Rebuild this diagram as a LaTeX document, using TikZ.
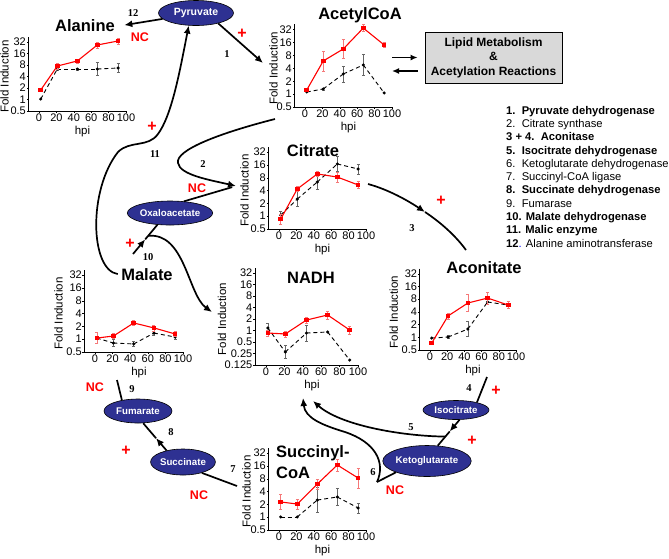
\documentclass[tikz,border=0pt]{standalone}
\usepackage{fontspec}
\setmainfont{Liberation Serif}
\setsansfont{Liberation Sans}
\usetikzlibrary{arrows.meta,positioning,shapes.geometric,calc}

\definecolor{metblue}{RGB}{46,49,146}
\definecolor{boxgray}{RGB}{217,217,217}
\definecolor{barred}{RGB}{245,120,120}

\tikzset{
  metab/.style={ellipse, draw, line width=0.6pt, fill=metblue, text=white, inner sep=0pt,
    font=\sffamily\bfseries\fontsize{9.7}{11}\selectfont},
  plottitle/.style={anchor=base, font=\sffamily\bfseries\fontsize{16.5}{21}\selectfont},
  lipidbox/.style={draw, fill=boxgray, line width=0.8pt, minimum width=137pt, minimum height=51pt,
    align=center, font=\sffamily\bfseries\fontsize{12}{14.5}\selectfont},
  enzlist/.style={align=left, inner sep=0pt, font=\sffamily\fontsize{11.2}{13.3}\selectfont},
  rxn/.style={font=\rmfamily\bfseries\fontsize{10.5}{12}\selectfont},
  effect/.style={text=red, font=\sffamily\bfseries\fontsize{12.5}{14}\selectfont},
  upmark/.style={text=red, font=\sffamily\bfseries\fontsize{16}{16}\selectfont},
  route/.style={line width=1.7pt},
  flow/.style={route, -{Latex[length=8pt,width=7pt]}},
  flowthin/.style={line width=1.4pt, -{Latex[length=7pt,width=6pt]}},
  axisline/.style={line width=0.6pt},
  ticklabel/.style={inner sep=0pt, font=\sffamily\fontsize{11}{11}\selectfont},
  axislabel/.style={inner sep=0pt, font=\sffamily\fontsize{11.5}{12}\selectfont},
  redline/.style={red, line width=1.1pt},
  redbar/.style={barred, line width=0.5pt, {Bar[width=3pt]}-{Bar[width=3pt]}},
  reddot/.style={rectangle, fill=red, minimum size=4.5pt, inner sep=0pt},
  blackline/.style={black, line width=0.9pt, dash pattern=on 4pt off 3pt},
  blackbar/.style={black!60, line width=0.5pt, {Bar[width=3pt]}-{Bar[width=3pt]}},
  blackdot/.style={circle, fill=black, minimum size=3.4pt, inner sep=0pt}
}

% axes of one fold-induction plot: #1 = doublings shown, #2 = tick values,
% #3 = gap from axis to the Fold Induction label
\newcommand{\chartaxes}[3][24pt]{%
  \draw[axisline] (-12,#2+0.4) -- (-12,0) -- (101,0);
  \foreach \v [count=\k from 0] in {#3} {
    \draw[axisline] (-12,\k) -- ++(-2pt,0);
    \node[ticklabel, left=2.5pt] at (-12,\k) {\v};}
  \foreach \t in {0,20,...,100} {
    \draw[axisline] (\t,0) -- ++(0,-2pt);
    \node[ticklabel, below=3pt] at (\t,0) {\t};}
  \node[axislabel, rotate=90] at ([xshift=-#1]-12,#2/2) {Fold Induction};
  \node[axislabel] at ([yshift=-21pt]50,0) {hpi};
}

% one data series: #1 = red or black, #2 = hpi/doublings/error
\newcommand{\datarun}[2]{%
  \foreach \x/\y/\e [remember=\x as \lastx (initially -99), remember=\y as \lasty (initially 0)] in {#2} {
    \ifdim\lastx pt>-50pt \draw[#1line] (\lastx,\lasty) -- (\x,\y); \fi
    \ifdim\e pt>0pt \draw[#1bar] (\x,\y-\e) -- (\x,\y+\e); \fi
  }
  \foreach \x/\y/\e in {#2} \node[#1dot] at (\x,\y) {};
}

\begin{document}
\begin{tikzpicture}[x=1pt,y=-1pt]
\useasboundingbox (0,0) rectangle (669,558);

% metabolites
\node[metab, minimum width=75pt, minimum height=25pt, font=\sffamily\bfseries\fontsize{10.5}{11}\selectfont] (pyr) at (196,13) {Pyruvate};
\node[metab, minimum width=84pt, minimum height=24pt] (oxa) at (170,213) {Oxaloacetate};
\node[metab, minimum width=66pt, minimum height=19pt] (iso) at (456,410) {Isocitrate};
\node[metab, minimum width=76pt, minimum height=31pt] (keto) at (427,461) {Ketoglutarate};
\node[metab, minimum width=68pt, minimum height=24pt] (fum) at (138,411) {Fumarate};
\node[metab, minimum width=64pt, minimum height=26pt] (succ) at (183,462) {Succinate};

% plot titles
\node[plottitle] (alanine) at (85,31) {Alanine};
\node[plottitle] (acetylcoa) at (360,19) {AcetylCoA};
\node[plottitle] (citrate) at (313,156) {Citrate};
\node[plottitle] (nadh) at (311,283) {NADH};
\node[plottitle] (aconitate) at (484,273) {Aconitate};
\node[plottitle] (malate) at (147,280) {Malate};
\node[plottitle, anchor=north west, align=left, inner sep=0pt] (succinylcoa) at (276,445) {Succinyl-\\CoA};

% plots
\begin{scope}[shift={(39,111)}, x=0.87pt, y=11.5pt]
  \chartaxes{6}{0.5,1,2,4,8,16,32}
  \datarun{black}{2/1.04/0, 21/3.65/.15, 44/3.65/.1, 67/3.65/.6, 91/3.74/.4}
  \datarun{red}{2/1.83/.15, 21/3.91/.3, 44/4.35/.2, 67/5.74/.3, 91/6.09/.3}
\end{scope}
\begin{scope}[shift={(305,107)}, x=0.87pt, y=12.9pt]
  \chartaxes[21pt]{6}{0.5,1,2,4,8,16,32}
  \datarun{black}{2/1.16/0, 21/1.40/.1, 44/2.56/.65, 67/3.26/.85, 91/1.09/0}
  \datarun{red}{2/1.32/.15, 21/3.57/.8, 44/4.50/.75, 67/6.12/.3, 91/4.81/.2}
\end{scope}
\begin{scope}[shift={(279,229)}, x=0.87pt, y=12.8pt]
  \chartaxes{6}{0.5,1,2,4,8,16,32}
  \datarun{black}{2/1.09/.3, 21/2.34/.6, 44/3.67/.6, 67/5.08/.6, 91/4.69/.4}
  \datarun{red}{2/0.78/.4, 21/3.13/.2, 44/4.30/.2, 67/4.06/.4, 91/3.44/.3}
\end{scope}
\begin{scope}[shift={(266,365)}, x=0.92pt, y=11.5pt]
  \chartaxes[33pt]{8}{0.125,0.25,0.5,1,2,4,8,16,32}
  \datarun{black}{2/3.22/.4, 21/1.13/.6, 44/2.78/.7, 67/2.87/0, 91/0.43/0}
  \datarun{red}{2/2.78/.3, 21/2.70/.3, 44/3.91/.3, 67/4.35/.35, 91/3.04/.35}
\end{scope}
\begin{scope}[shift={(430,350)}, x=0.86pt, y=12.7pt]
  \chartaxes[26pt]{6}{0.5,1,2,4,8,16,32}
  \datarun{black}{2/0.94/0, 21/1.02/.15, 44/1.65/.6, 67/3.78/.2, 91/3.54/.3}
  \datarun{red}{2/0.55/.15, 21/2.68/.25, 44/3.70/.7, 67/4.09/.5, 91/3.54/.3}
\end{scope}
\begin{scope}[shift={(95,352)}, x=0.88pt, y=12.8pt]
  \chartaxes[26pt]{6}{0.5,1,2,4,8,16,32}
  \datarun{black}{2/1.09/0, 21/0.70/.3, 44/0.63/.2, 67/1.48/.2, 91/1.17/.2}
  \datarun{red}{2/1.09/.45, 21/1.25/.2, 44/2.27/.2, 67/1.88/.25, 91/1.41/.2}
\end{scope}
\begin{scope}[shift={(279,530)}, x=0.87pt, y=12.8pt]
  \chartaxes[22pt]{6}{0.5,1,2,4,8,16,32}
  \datarun{black}{2/1.02/0, 21/1.02/0, 44/2.34/1.0, 67/2.58/.7, 91/1.72/.4}
  \datarun{red}{2/2.19/.6, 21/2.03/.4, 44/3.59/.4, 67/5.08/.5, 91/4.06/.8}
\end{scope}

% lipid box and enzyme list
\node[lipidbox] (lipid) at (493.5,57.5) {Lipid Metabolism\\\&\\Acetylation Reactions};
\node[enzlist, anchor=north west] (enzymes) at (506,105.8) {%
  \textbf{1.\ \ Pyruvate dehydrogenase}\\
  2.\ \ Citrate synthase\\
  \textbf{3 + 4.\ \ Aconitase}\\
  \textbf{5.\ \ Isocitrate dehydrogenase}\\
  6.\ \ Ketoglutarate dehydrogenase\\
  7.\ \ Succinyl-CoA ligase\\
  \textbf{8.\ \ Succinate dehydrogenase}\\
  9.\ \ Fumarase\\
  \textbf{10. Malate dehydrogenase}\\
  \textbf{11. Malic enzyme}\\
  \textbf{12}{\color{blue}.} Alanine aminotransferase};

% free ends of connectors
\coordinate (acin) at (263,63);
\coordinate (acright) at (392,57.5);
\coordinate (lipA) at ([xshift=-7pt]lipid.west);
\coordinate (lipB) at ([shift={(-7,13.5)}]lipid.west);
\coordinate (acright2) at (392,71);
\coordinate (acleft) at (275,119);
\coordinate (citin) at (236,186);
\coordinate (citright) at (368,184);
\coordinate (step3) at (425,212);
\coordinate (acontop) at (466,250);
\coordinate (aconbot) at (487,377);
\coordinate (step5) at ($(iso.-70)!0.45!(keto.55)$);
\coordinate (join5) at ($(iso.-70)!0.65!(keto.55)$);
\coordinate (nadhA) at (303,398);
\coordinate (nadhB) at (313,401);
\coordinate (ketoend) at (377,482);
\coordinate (scoaleft) at (237,486);
\coordinate (step8) at ($(succ.145)!0.45!(fum.-67)$);
\coordinate (malbot) at (117,380);
\coordinate (malout) at (133,254);
\coordinate (step10) at ($(malout)!0.5!(oxa.223)$);
\coordinate (join10) at ($(malout)!0.62!(oxa.223)$);
\coordinate (nadhC) at (212,312);

% reactions
\draw[flow] (pyr.-25) -- (acin);
\draw[flow] (pyr.190) -- ([xshift=6pt]alanine.east);
\draw[flowthin] (acright) -- (lipA);
\draw[flowthin] (lipB) -- (acright2);
\draw[flow] (malate.west) .. controls (90,270) and (88,190) .. (118,152)
  .. controls (130,140) and (148,148) .. (158,134)
  .. controls (172,115) and (180,70) .. (pyr.240);
\draw[flow] (acleft) .. controls (220,133) and (175,150) .. (178,163)
  .. controls (180,175) and (210,180) .. (citin);
\draw[route, shorten >=4pt] (oxa.40) -- (citin);
\draw[flow] (citright) .. controls (390,190) and (410,202) .. (step3);
\draw[route] (step3) .. controls (440,222) and (455,235) .. (acontop);
\draw[route] (aconbot) -- (iso.20);
\draw[flow] (iso.-70) -- (step5);
\draw[route] (step5) -- (keto.55);
\draw[flow] (join5) .. controls (400,436) and (340,425) .. (nadhB);
\draw[route] (keto.200) -- (ketoend);
\draw[flow] (ketoend) .. controls (386,462) and (375,442) .. (345,432)
  .. controls (322,425) and (305,418) .. (nadhA);
\draw[route] (scoaleft) -- (succ.-30);
\draw[flow] (succ.145) -- (step8);
\draw[route] (step8) -- (fum.-67);
\draw[route] (fum.146) -- (malbot);
\draw[flow] (malout) -- (step10);
\draw[route] (step10) -- (oxa.223);
\draw[flow] (join10) .. controls (185,232) and (188,295) .. (nadhC);

% reaction numbers
\node[rxn] (r1) at (227,54) {1};
\node[rxn] (r2) at (203,164) {2};
\node[rxn] (r3) at (412,228) {3};
\node[rxn] (r4) at (469,388) {4};
\node[rxn] (r5) at (411,427) {5};
\node[rxn] (r6) at (373,472) {6};
\node[rxn] (r7) at (233,469) {7};
\node[rxn] (r8) at (171,432) {8};
\node[rxn] (r9) at (132,389) {9};
\node[rxn] (r10) at (148,257) {10};
\node[rxn] (r11) at (155,154) {11};
\node[rxn] (r12) at (133,13) {12};

% induction marks
\node[upmark] (up1) at (242,34) {+};
\node[upmark] (up11) at (152,127) {+};
\node[upmark] (up3) at (441,201) {+};
\node[upmark] (up4) at (496,391) {+};
\node[upmark] (up5) at (472,441) {+};
\node[upmark] (up8) at (126,451) {+};
\node[upmark] (up10) at (130,244) {+};
\node[effect] (nc12) at (140,37) {NC};
\node[effect] (nc2) at (197,188) {NC};
\node[effect] (nc6) at (395,490) {NC};
\node[effect] (nc7) at (199,495) {NC};
\node[effect] (nc9) at (95,387) {NC};
\end{tikzpicture}
\end{document}
